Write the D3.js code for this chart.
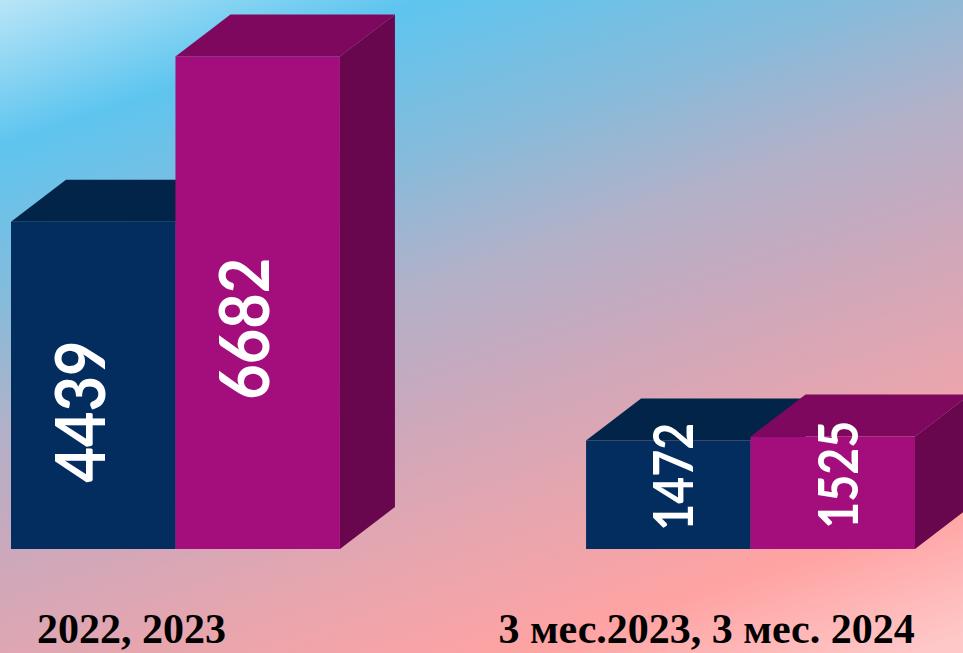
<!DOCTYPE html>
<html>
<head>
<meta charset="utf-8">
<script src="https://cdn.jsdelivr.net/npm/d3@7/dist/d3.min.js"></script>
<style>
  html, body { margin: 0; padding: 0; overflow: hidden; }
  svg { display: block; }
</style>
</head>
<body>
<svg id="chart" width="963" height="653"></svg>
<script>
// ---- data ----
const categories = ["2022, 2023", "3 мес.2023, 3 мес. 2024"];
const series = ["prev", "curr"];
const valuesPrev = [4439, 1472];
const valuesCurr = [6682, 1525];

// ---- styles ----
const faceColors = {
  prev: { front: "#032c5f", top: "#022449", side: "#021d3d" },
  curr: { front: "#a30e7c", top: "#7e085d", side: "#68064e" }
};
const W = 963, H = 653;
const depthX = 55, depthY = 42;

const svg = d3.select("#chart");
const defs = svg.append("defs");
const grad = defs.append("linearGradient")
  .attr("id", "bg").attr("gradientUnits", "userSpaceOnUse")
  .attr("x1", 0).attr("y1", 0).attr("x2", 300).attr("y2", 868);
[[0, "#b9e5f7"], [0.15, "#5ec5ef"], [0.31, "#86bbdb"], [0.44, "#b1b1c9"],
 [0.57, "#cba8bc"], [0.68, "#e0a6b2"], [0.86, "#ffa3a3"], [1, "#ffc8c8"]]
  .forEach(([o, c]) => grad.append("stop").attr("offset", o).attr("stop-color", c));
svg.append("rect").attr("width", W).attr("height", H).attr("fill", "url(#bg)");

const x0 = d3.scaleBand().domain(categories).range([11, 915]).paddingInner(0.428).paddingOuter(0);
const x1 = d3.scaleBand().domain(series).range([0, x0.bandwidth()]).padding(0);
const y = d3.scaleLinear().domain([0, 7000]).range([549, 33]);

const data = [];
categories.forEach((c, i) => {
  data.push({ cat: c, s: "prev", v: valuesPrev[i] });
  data.push({ cat: c, s: "curr", v: valuesCurr[i] });
});

const g = svg.append("g");
data.forEach(d => {
  const xl = x0(d.cat) + x1(d.s), xr = xl + x1.bandwidth();
  const yt = y(d.v), yb = y(0);
  const col = faceColors[d.s];
  const bar = g.append("g");
  bar.append("path").attr("fill", col.side)
    .attr("d", `M${xr},${yt}L${xr + depthX},${yt - depthY}L${xr + depthX},${yb - depthY}L${xr},${yb}Z`);
  bar.append("path").attr("fill", col.top)
    .attr("d", `M${xl},${yt}L${xl + depthX},${yt - depthY}L${xr + depthX},${yt - depthY}L${xr},${yt}Z`);
  bar.append("rect").attr("fill", col.front)
    .attr("x", xl).attr("y", yt).attr("width", xr - xl).attr("height", yb - yt);
  d.xc = (xl + xr) / 2; d.yt = yt; d.yb = yb;
});

// value labels
data.forEach(d => {
  const big = d.v > 3000;
  const fs = big ? 68 : 55;
  const cx = d.xc + (big ? -13 : 5);
  const cy = big ? (d.yt + d.yb) / 2 + 26 : (d.yt - depthY + d.yb) / 2 + 3;
  g.append("text")
    .attr("transform", `translate(${cx},${cy}) rotate(-90)`)
    .attr("text-anchor", "middle")
    .attr("dy", "0.36em")
    .attr("fill", "#ffffff")
    .style("font-family", "Lato, 'Open Sans', sans-serif")
    .style("font-weight", 700)
    .style("font-size", fs + "px")
    .attr("textLength", big ? 142 : 108)
    .attr("lengthAdjust", "spacingAndGlyphs")
    .text(d3.format("d")(d.v));
});

// category labels
categories.forEach(c => {
  svg.append("text")
    .attr("x", x0(c) + x0.bandwidth() / 2 - 44)
    .attr("y", 643)
    .attr("text-anchor", "middle")
    .attr("fill", "#000")
    .style("font-family", "'Liberation Serif', 'Times New Roman', serif")
    .style("font-weight", 700)
    .style("font-size", "42px")
    .text(c);
});
</script>
</body>
</html>
